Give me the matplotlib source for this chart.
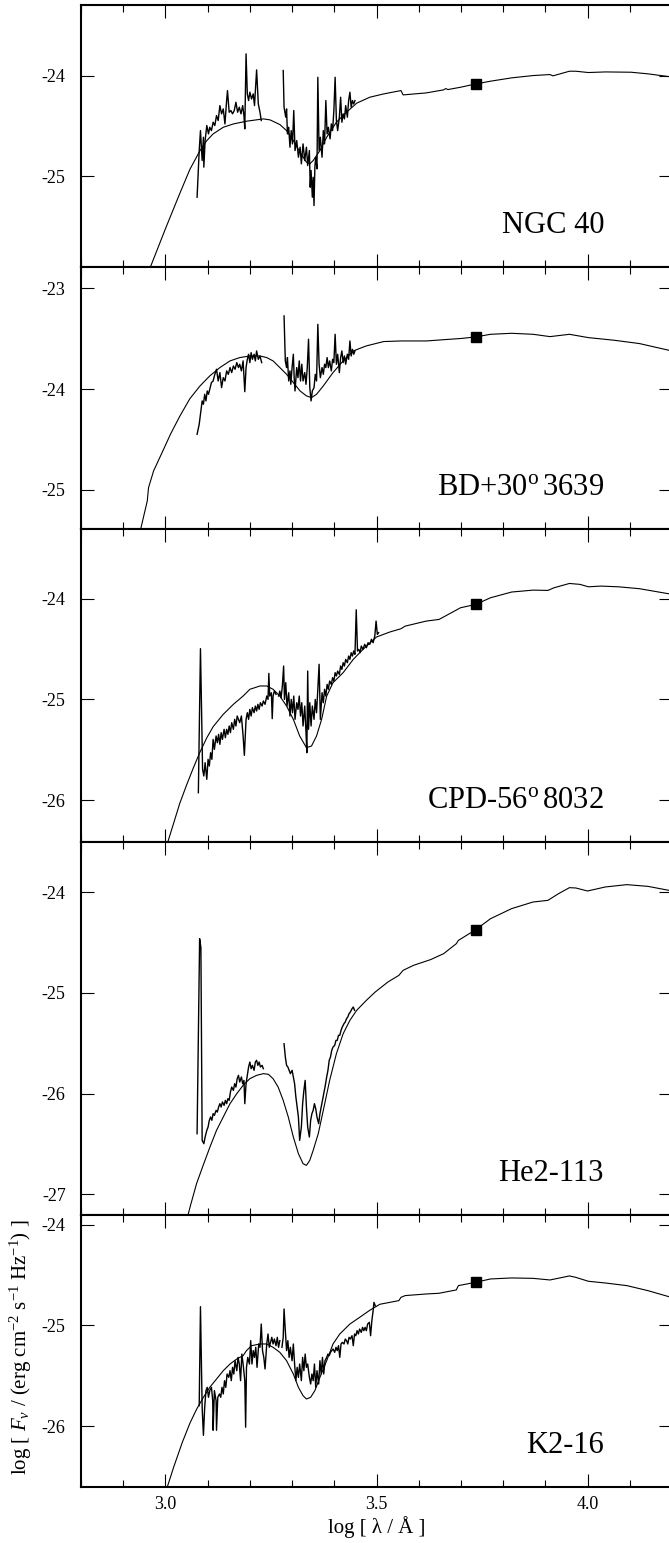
import matplotlib
matplotlib.use("Agg")
import matplotlib.pyplot as plt
from matplotlib.ticker import MultipleLocator

plt.rcParams["font.family"] = ["Liberation Serif", "DejaVu Serif"]
plt.rcParams["mathtext.fontset"] = "custom"
plt.rcParams["mathtext.rm"] = "Liberation Serif"
plt.rcParams["mathtext.it"] = "Liberation Serif:italic"
plt.rcParams["axes.unicode_minus"] = False

# ---------------------------------------------------------------- data
names = ["NGC 40", "BD+30$^\\mathrm{o}\\,$3639", "CPD-56$^\\mathrm{o}\\,$8032", "He2-113", "K2-16"]
ylims = [(-25.9, -23.3), (-25.39, -22.79), (-26.41, -23.31), (-27.2, -23.5), (-26.6, -23.9)]

# V-band photometry (log lambda, log F_nu)
v_logwl = 3.735
v_flux = [-24.083, -23.483, -24.057, -24.374, -24.572]

# NGC 40
ngc40_model_x = [2.955, 3.0, 3.034, 3.058, 3.082, 3.098, 3.113, 3.137, 3.161,
                 3.192, 3.232, 3.248, 3.271, 3.287, 3.303, 3.319, 3.334, 3.342, 3.350,
                 3.366, 3.382, 3.405, 3.429, 3.453, 3.484, 3.517, 3.558, 3.563, 3.618,
                 3.659, 3.664, 3.669, 3.699, 3.735, 3.770, 3.820, 3.871, 3.911, 3.918,
                 3.957, 3.972, 4.002, 4.042, 4.103, 4.143, 4.192, 4.2]
ngc40_model_y = [-26.0, -25.52, -25.17, -24.93, -24.744, -24.645, -24.579, -24.513, -24.48,
                 -24.453, -24.43, -24.44, -24.486, -24.546, -24.645, -24.761, -24.86, -24.876, -24.843,
                 -24.744, -24.612, -24.463, -24.364, -24.274, -24.215, -24.182, -24.149, -24.192, -24.172,
                 -24.142, -24.129, -24.139, -24.116, -24.083, -24.056, -24.023, -24.0, -23.99, -24.003,
                 -23.957, -23.957, -23.97, -23.964, -23.967, -23.983, -24.01, -24.015]
ngc40_swp_x = [3.075, 3.080, 3.083, 3.087, 3.090, 3.091, 3.094, 3.098, 3.102, 3.105,
               3.109, 3.113, 3.117, 3.121, 3.125, 3.129, 3.133, 3.137, 3.141, 3.145,
               3.147, 3.151, 3.155, 3.159, 3.163, 3.167, 3.171, 3.175, 3.179, 3.183,
               3.186, 3.188, 3.191, 3.194, 3.197, 3.200, 3.204, 3.208, 3.211, 3.216,
               3.220, 3.224, 3.227]
ngc40_swp_y = [-25.207, -24.744, -24.546, -24.843, -24.612, -24.909, -24.645, -24.496, -24.579, -24.513,
               -24.546, -24.463, -24.496, -24.397, -24.446, -24.298, -24.380, -24.331, -24.480, -24.248,
               -24.149, -24.364, -24.347, -24.380, -24.347, -24.265, -24.364, -24.314, -24.380, -24.298,
               -24.397, -24.529, -23.785, -24.182, -24.248, -24.165, -24.232, -24.182, -24.298, -23.944,
               -24.281, -24.364, -24.446]
ngc40_lw_x = [3.279, 3.281, 3.285, 3.287, 3.289, 3.292, 3.295, 3.298, 3.301, 3.304,
              3.307, 3.311, 3.315, 3.319, 3.322, 3.326, 3.330, 3.334, 3.337, 3.341,
              3.343, 3.345, 3.348, 3.350, 3.352, 3.354, 3.356, 3.359, 3.361, 3.364,
              3.367, 3.371, 3.374, 3.377, 3.380, 3.383, 3.386, 3.390, 3.393, 3.396,
              3.399, 3.402, 3.405, 3.408, 3.412, 3.415, 3.418, 3.421, 3.424, 3.427,
              3.431, 3.434, 3.437, 3.440, 3.443, 3.446, 3.449]
ngc40_lw_y = [-23.950, -24.314, -24.413, -24.331, -24.579, -24.513, -24.711, -24.546, -24.678, -24.347,
              -24.744, -24.645, -24.810, -24.711, -24.876, -24.678, -24.843, -24.711, -24.893, -24.744,
              -25.108, -24.942, -25.207, -25.009, -25.290, -24.909, -24.810, -24.926, -24.017, -24.744,
              -24.612, -24.810, -24.546, -24.678, -24.248, -24.579, -24.513, -24.628, -24.480, -24.546,
              -24.347, -24.017, -24.446, -24.546, -24.413, -24.215, -24.463, -24.380, -24.430, -24.298,
              -24.413, -24.248, -24.165, -24.314, -24.248, -24.281, -24.248]

# BD+30 3639
bd30_model_x = [2.938, 2.957, 2.960, 2.972, 2.992, 3.012, 3.034, 3.058, 3.082, 3.105,
                3.129, 3.153, 3.176, 3.200, 3.224, 3.240, 3.255, 3.271, 3.287, 3.303,
                3.319, 3.334, 3.346, 3.358, 3.374, 3.397, 3.421, 3.445, 3.476, 3.517,
                3.558, 3.618, 3.664, 3.699, 3.735, 3.770, 3.820, 3.871, 3.911, 3.957,
                4.002, 4.063, 4.123, 4.192, 4.2]
bd30_model_y = [-25.45, -25.11, -24.978, -24.812, -24.631, -24.448, -24.27, -24.095, -23.969, -23.870,
                -23.787, -23.721, -23.688, -23.672, -23.672, -23.688, -23.721, -23.787, -23.854, -23.936,
                -24.019, -24.068, -24.085, -24.052, -23.969, -23.837, -23.721, -23.622, -23.572, -23.529,
                -23.523, -23.523, -23.509, -23.499, -23.483, -23.457, -23.447, -23.457, -23.48, -23.457,
                -23.49, -23.516, -23.549, -23.615, -23.625]
bd30_swp_x = [3.075, 3.080, 3.083, 3.087, 3.090, 3.093, 3.096, 3.099, 3.102, 3.105,
              3.109, 3.113, 3.117, 3.121, 3.125, 3.129, 3.133, 3.137, 3.141, 3.145,
              3.149, 3.153, 3.157, 3.161, 3.165, 3.169, 3.173, 3.176, 3.180, 3.184,
              3.188, 3.191, 3.194, 3.197, 3.200, 3.203, 3.206, 3.210, 3.213, 3.216,
              3.220, 3.224, 3.228]
bd30_swp_y = [-24.449, -24.350, -24.250, -24.118, -24.151, -24.052, -24.118, -24.019, -24.052, -24.002,
              -23.936, -23.920, -23.854, -23.804, -23.920, -23.837, -23.986, -23.887, -23.920, -23.820,
              -23.854, -23.787, -23.837, -23.771, -23.804, -23.738, -23.787, -23.754, -23.820, -23.721,
              -24.026, -23.787, -23.705, -23.655, -23.738, -23.639, -23.705, -23.655, -23.721, -23.622,
              -23.705, -23.672, -23.738]
bd30_lw_x = [3.281, 3.284, 3.287, 3.289, 3.292, 3.295, 3.297, 3.300, 3.303, 3.305,
             3.307, 3.311, 3.314, 3.317, 3.320, 3.323, 3.326, 3.330, 3.333, 3.336,
             3.339, 3.342, 3.345, 3.348, 3.352, 3.355, 3.358, 3.361, 3.364, 3.367,
             3.371, 3.374, 3.377, 3.380, 3.383, 3.386, 3.389, 3.393, 3.396, 3.399,
             3.402, 3.405, 3.408, 3.412, 3.415, 3.418, 3.421, 3.424, 3.427, 3.431,
             3.434, 3.437, 3.440, 3.443, 3.446, 3.449]
bd30_lw_y = [-23.275, -23.721, -23.787, -23.688, -23.920, -23.820, -23.953, -23.787, -23.655, -23.887,
             -24.019, -23.787, -23.887, -23.721, -23.920, -23.754, -23.920, -23.837, -23.953, -23.787,
             -23.506, -23.986, -24.118, -24.019, -23.986, -23.854, -23.920, -23.358, -23.754, -23.887,
             -23.787, -23.854, -23.754, -23.787, -23.688, -23.787, -23.721, -23.820, -23.705, -23.738,
             -23.457, -23.754, -23.655, -23.837, -23.688, -23.622, -23.738, -23.672, -23.754, -23.655,
             -23.705, -23.523, -23.672, -23.606, -23.655, -23.622]

# CPD-56 8032
cpd56_model_x = [2.995, 3.0, 3.02, 3.034, 3.050, 3.066, 3.082, 3.098, 3.113, 3.137, 3.161,
                 3.184, 3.200, 3.224, 3.240, 3.255, 3.271, 3.287, 3.303, 3.318, 3.334,
                 3.346, 3.358, 3.370, 3.382, 3.397, 3.421, 3.445, 3.468, 3.500, 3.532,
                 3.558, 3.568, 3.618, 3.648, 3.689, 3.699, 3.735, 3.770, 3.820, 3.871,
                 3.906, 3.921, 3.957, 3.982, 4.002, 4.032, 4.073, 4.123, 4.192, 4.2]
cpd56_model_y = [-26.56, -26.49, -26.22, -26.03, -25.85, -25.68, -25.52, -25.38, -25.27, -25.147, -25.048,
                 -24.966, -24.899, -24.866, -24.866, -24.899, -24.966, -25.065, -25.197, -25.362, -25.478,
                 -25.462, -25.362, -25.197, -24.966, -24.833, -24.734, -24.602, -24.503, -24.38, -24.33,
                 -24.298, -24.272, -24.222, -24.206, -24.113, -24.090, -24.057, -23.991, -23.934, -23.915,
                 -23.918, -23.891, -23.849, -23.858, -23.882, -23.875, -23.882, -23.901, -23.951, -23.957]
cpd56_swp_x = [3.078, 3.083, 3.086, 3.088, 3.091, 3.094, 3.098, 3.101, 3.104, 3.107,
               3.110, 3.113, 3.116, 3.120, 3.123, 3.126, 3.129, 3.132, 3.135, 3.139,
               3.142, 3.145, 3.148, 3.151, 3.154, 3.157, 3.161, 3.164, 3.167, 3.170,
               3.173, 3.176, 3.180, 3.184, 3.187, 3.191, 3.194, 3.197, 3.200, 3.203,
               3.206, 3.210, 3.213, 3.216, 3.219, 3.222, 3.225, 3.229, 3.232, 3.236,
               3.240, 3.243, 3.245, 3.247, 3.251, 3.253, 3.255, 3.258, 3.262]
cpd56_swp_y = [-25.925, -24.496, -25.197, -25.693, -25.759, -25.627, -25.792, -25.594, -25.660, -25.528,
               -25.594, -25.396, -25.495, -25.362, -25.429, -25.346, -25.445, -25.329, -25.396, -25.296,
               -25.379, -25.296, -25.346, -25.263, -25.329, -25.230, -25.296, -25.197, -25.263, -25.164,
               -25.197, -25.230, -25.164, -25.362, -25.554, -25.197, -25.131, -25.197, -25.098, -25.164,
               -25.081, -25.131, -25.065, -25.114, -25.048, -25.098, -25.032, -25.065, -25.015, -25.048,
               -24.966, -24.999, -24.741, -24.966, -24.933, -25.190, -24.966, -24.916, -24.949]
cpd56_lw_x = [3.268, 3.271, 3.274, 3.277, 3.280, 3.282, 3.285, 3.288, 3.292, 3.295,
              3.298, 3.301, 3.304, 3.307, 3.311, 3.314, 3.317, 3.320, 3.323, 3.326,
              3.330, 3.333, 3.335, 3.337, 3.339, 3.342, 3.345, 3.348, 3.352, 3.355,
              3.358, 3.361, 3.364, 3.367, 3.371, 3.374, 3.377, 3.380, 3.383, 3.386,
              3.389, 3.393, 3.396, 3.399, 3.402, 3.405, 3.408, 3.412, 3.415, 3.418,
              3.421, 3.424, 3.427, 3.431, 3.434, 3.437, 3.440, 3.443, 3.446, 3.449,
              3.452, 3.455, 3.458, 3.461, 3.464, 3.468, 3.472, 3.476, 3.480, 3.484,
              3.488, 3.492, 3.496, 3.499, 3.502, 3.505]
cpd56_lw_y = [-24.966, -24.916, -24.982, -24.866, -24.668, -24.999, -24.833, -25.065, -24.933, -25.164,
              -24.999, -25.131, -24.966, -25.197, -25.032, -25.098, -24.966, -25.164, -25.032, -25.263,
              -25.065, -25.329, -25.528, -24.718, -25.296, -25.032, -25.263, -25.065, -25.197, -24.999,
              -25.131, -24.899, -24.651, -25.197, -24.933, -25.032, -24.899, -24.966, -24.850, -24.899,
              -24.817, -24.850, -24.784, -24.817, -24.734, -24.767, -24.718, -24.751, -24.668, -24.701,
              -24.635, -24.668, -24.602, -24.635, -24.569, -24.602, -24.536, -24.569, -24.519, -24.552,
              -24.110, -24.519, -24.503, -24.536, -24.470, -24.503, -24.453, -24.486, -24.437, -24.453,
              -24.403, -24.437, -24.370, -24.222, -24.354, -24.337]

# He2-113
he2_model_x = [3.050, 3.060, 3.074, 3.090, 3.105, 3.121, 3.137, 3.153, 3.169, 3.184, 3.200,
               3.216, 3.232, 3.244, 3.255, 3.267, 3.279, 3.291, 3.303, 3.315, 3.326,
               3.334, 3.342, 3.350, 3.362, 3.374, 3.389, 3.405, 3.421, 3.437, 3.453,
               3.476, 3.497, 3.527, 3.553, 3.563, 3.588, 3.628, 3.659, 3.689, 3.694,
               3.735, 3.770, 3.820, 3.871, 3.906, 3.931, 3.957, 3.972, 4.000, 4.042,
               4.093, 4.143, 4.192, 4.2]
he2_model_y = [-27.26, -27.10, -26.89, -26.705, -26.535, -26.365, -26.232, -26.100, -26.001, -25.918, -25.852,
               -25.819, -25.802, -25.809, -25.852, -25.935, -26.067, -26.232, -26.431, -26.596, -26.695,
               -26.712, -26.662, -26.563, -26.398, -26.166, -25.869, -25.604, -25.406, -25.273, -25.174,
               -25.075, -24.992, -24.893, -24.827, -24.777, -24.727, -24.671, -24.612, -24.513, -24.480,
               -24.374, -24.265, -24.165, -24.099, -24.083, -24.017, -23.957, -23.960, -23.990, -23.950,
               -23.927, -23.944, -23.983, -23.99]
he2_swp_x = [3.075, 3.081, 3.084, 3.087, 3.091, 3.094, 3.098, 3.101, 3.104, 3.107,
             3.110, 3.113, 3.116, 3.120, 3.123, 3.126, 3.129, 3.132, 3.135, 3.139,
             3.142, 3.145, 3.148, 3.151, 3.154, 3.157, 3.161, 3.164, 3.167, 3.170,
             3.173, 3.176, 3.180, 3.183, 3.186, 3.188, 3.191, 3.194, 3.197, 3.200,
             3.203, 3.206, 3.210, 3.213, 3.216, 3.219, 3.222, 3.225, 3.229, 3.232]
he2_swp_y = [-26.398, -24.463, -24.55, -26.464, -26.497, -26.431, -26.365, -26.332, -26.265, -26.232,
             -26.265, -26.199, -26.216, -26.166, -26.183, -26.133, -26.100, -26.133, -26.083, -26.117,
             -26.067, -26.100, -26.050, -26.067, -25.984, -25.935, -25.968, -25.902, -25.935, -25.852,
             -25.819, -25.885, -25.835, -25.902, -25.869, -26.100, -25.902, -25.819, -25.736, -25.687,
             -25.753, -25.720, -25.769, -25.687, -25.670, -25.720, -25.687, -25.736, -25.720, -25.753]
he2_lw_x = [3.281, 3.284, 3.287, 3.290, 3.293, 3.296, 3.300, 3.303, 3.306, 3.309,
            3.312, 3.315, 3.318, 3.322, 3.325, 3.328, 3.331, 3.334, 3.337, 3.341,
            3.344, 3.347, 3.350, 3.353, 3.356, 3.359, 3.363, 3.366, 3.369, 3.372,
            3.375, 3.378, 3.382, 3.385, 3.388, 3.391, 3.394, 3.397, 3.401, 3.404,
            3.407, 3.410, 3.413, 3.416, 3.419, 3.423, 3.426, 3.429, 3.432, 3.435,
            3.438, 3.442, 3.445, 3.448]
he2_lw_y = [-25.505, -25.637, -25.720, -25.736, -25.769, -25.802, -25.769, -25.835, -25.902, -26.034,
            -26.133, -26.232, -26.464, -26.332, -26.100, -25.968, -25.869, -26.133, -26.332, -26.431,
            -26.265, -26.199, -26.166, -26.100, -26.150, -26.232, -26.298, -26.199, -26.133, -26.067,
            -26.001, -25.935, -25.835, -25.769, -25.670, -25.637, -25.571, -25.538, -25.521, -25.472,
            -25.472, -25.422, -25.422, -25.372, -25.339, -25.306, -25.290, -25.257, -25.240, -25.207,
            -25.191, -25.158, -25.141, -25.174]

# K2-16
k216_model_x = [2.995, 3.0, 3.02, 3.04, 3.058, 3.074, 3.090, 3.105, 3.121, 3.137, 3.153, 3.169,
                3.184, 3.192, 3.204, 3.224, 3.240, 3.255, 3.271, 3.287, 3.303, 3.315,
                3.326, 3.334, 3.344, 3.354, 3.366, 3.382, 3.397, 3.413, 3.437, 3.460,
                3.484, 3.508, 3.553, 3.558, 3.568, 3.618, 3.648, 3.689, 3.694, 3.735,
                3.770, 3.820, 3.871, 3.911, 3.957, 3.972, 4.002, 4.042, 4.093, 4.143,
                4.192, 4.2]
k216_model_y = [-26.75, -26.66, -26.40, -26.16, -25.97, -25.83, -25.713, -25.614, -25.532, -25.449, -25.383, -25.333,
                -25.300, -25.250, -25.201, -25.184, -25.184, -25.217, -25.267, -25.350, -25.482, -25.614,
                -25.697, -25.730, -25.713, -25.647, -25.515, -25.350, -25.184, -25.085, -24.986, -24.920,
                -24.85, -24.79, -24.754, -24.721, -24.704, -24.688, -24.681, -24.648, -24.605, -24.572,
                -24.539, -24.529, -24.533, -24.549, -24.509, -24.523, -24.562, -24.579, -24.605, -24.655,
                -24.714, -24.725]
k216_swp_x = [3.080, 3.083, 3.087, 3.090, 3.093, 3.096, 3.099, 3.102, 3.105, 3.109,
              3.112, 3.113, 3.116, 3.120, 3.121, 3.124, 3.128, 3.131, 3.134, 3.137,
              3.140, 3.143, 3.146, 3.150, 3.153, 3.156, 3.159, 3.162, 3.165, 3.169,
              3.172, 3.175, 3.178, 3.181, 3.184, 3.188, 3.190, 3.192, 3.195, 3.199,
              3.202, 3.205, 3.208, 3.211, 3.214, 3.217, 3.221, 3.224, 3.227, 3.230,
              3.233, 3.236, 3.240, 3.243, 3.246, 3.249, 3.252, 3.255, 3.258, 3.262,
              3.265, 3.268, 3.271]
k216_swp_y = [-25.796, -24.814, -25.813, -26.09, -25.813, -25.647, -25.614, -25.713, -25.647, -25.614,
              -25.747, -26.04, -25.647, -25.747, -26.04, -25.713, -25.680, -25.713, -25.614, -25.680,
              -25.548, -25.614, -25.482, -25.515, -25.449, -25.548, -25.416, -25.482, -25.350, -25.449,
              -25.317, -25.383, -25.548, -25.284, -25.383, -25.548, -26.01, -25.416, -25.317, -25.383,
              -25.151, -25.383, -25.250, -25.317, -25.217, -25.416, -25.184, -25.217, -24.986, -25.250,
              -25.317, -25.432, -25.184, -25.085, -25.217, -25.168, -25.118, -25.184, -25.135, -25.201,
              -25.118, -25.217, -25.151]
k216_lw_x = [3.276, 3.279, 3.281, 3.284, 3.287, 3.290, 3.293, 3.296, 3.300, 3.303,
             3.306, 3.309, 3.312, 3.315, 3.318, 3.322, 3.325, 3.328, 3.331, 3.334,
             3.337, 3.341, 3.344, 3.347, 3.350, 3.353, 3.356, 3.359, 3.363, 3.366,
             3.369, 3.372, 3.375, 3.378, 3.382, 3.385, 3.388, 3.391, 3.394, 3.397,
             3.401, 3.404, 3.407, 3.410, 3.413, 3.416, 3.419, 3.423, 3.426, 3.429,
             3.432, 3.435, 3.438, 3.442, 3.445, 3.448, 3.451, 3.454, 3.457, 3.460,
             3.464, 3.467, 3.470, 3.473, 3.476, 3.479, 3.483, 3.486, 3.489, 3.492,
             3.494, 3.497]
k216_lw_y = [-25.217, -25.118, -24.837, -25.052, -25.250, -25.151, -25.317, -25.217, -25.350, -25.184,
             -25.383, -25.548, -25.416, -25.515, -25.383, -25.548, -25.317, -25.449, -25.284, -25.416,
             -25.383, -25.515, -25.581, -25.482, -25.548, -25.383, -25.614, -25.449, -25.581, -25.350,
             -25.482, -25.317, -25.482, -25.350, -25.317, -25.284, -25.300, -25.267, -25.250, -25.234,
             -25.267, -25.217, -25.250, -25.201, -25.317, -25.184, -25.168, -25.184, -25.135, -25.151,
             -25.184, -25.118, -25.135, -25.102, -25.201, -25.085, -25.102, -25.052, -25.085, -25.036,
             -25.069, -25.019, -25.052, -25.019, -25.052, -24.986, -24.969, -25.102, -24.953, -24.854,
             -24.771, -24.804]

panels = [
    (ngc40_model_x, ngc40_model_y, ngc40_swp_x, ngc40_swp_y, ngc40_lw_x, ngc40_lw_y),
    (bd30_model_x, bd30_model_y, bd30_swp_x, bd30_swp_y, bd30_lw_x, bd30_lw_y),
    (cpd56_model_x, cpd56_model_y, cpd56_swp_x, cpd56_swp_y, cpd56_lw_x, cpd56_lw_y),
    (he2_model_x, he2_model_y, he2_swp_x, he2_swp_y, he2_lw_x, he2_lw_y),
    (k216_model_x, k216_model_y, k216_swp_x, k216_swp_y, k216_lw_x, k216_lw_y),
]

# ---------------------------------------------------------------- figure
W, H = 669, 1543
fig = plt.figure(figsize=(W / 100, H / 100), dpi=100)
gs = fig.add_gridspec(
    5, 1,
    height_ratios=[hi - lo for lo, hi in ylims],
    hspace=0,
    left=81 / W, right=672 / W,
    top=1 - 5 / H, bottom=1 - 1486.7 / H,
)

axes = []
for i, (mx, my, sx, sy, lx, ly) in enumerate(panels):
    ax = fig.add_subplot(gs[i])
    axes.append(ax)

    # model SED, the two UV spectra and the V-band point
    ax.plot(mx, my, color="black", lw=0.8)
    ax.plot(sx, sy, color="black", lw=1.0)
    ax.plot(lx, ly, color="black", lw=1.0)
    ax.plot([v_logwl], [v_flux[i]], "s", color="black", ms=7)

    ax.set_xlim(2.8, 4.2)
    ax.set_ylim(*ylims[i])

    ax.xaxis.set_major_locator(MultipleLocator(0.5))
    ax.xaxis.set_minor_locator(MultipleLocator(0.1))
    ax.yaxis.set_major_locator(MultipleLocator(1))

    ax.tick_params(which="both", direction="in", top=True, right=True,
                   width=0.8, labelsize=13)
    ax.tick_params(which="major", length=9.5)
    ax.tick_params(which="minor", length=5)
    ax.tick_params(axis="y", pad=11)
    ax.tick_params(axis="x", pad=6.5)
    for sp in ax.spines.values():
        sp.set_linewidth(1.5)

    if i < len(panels) - 1:
        ax.tick_params(labelbottom=False)

    ax.annotate(names[i], xy=(0.885, 0), xycoords="axes fraction",
                xytext=(0, 24.5), textcoords="offset points",
                ha="right", va="baseline", fontsize=22)

bottom = axes[-1]
bottom.set_xlabel("log [ λ / Å ]", fontsize=15)
bottom.xaxis.set_label_coords(0.5, -0.108)
bottom.set_ylabel("log [ $F_{\\nu}$ / (erg cm$^{-2}$ s$^{-1}$ Hz$^{-1}$) ]", fontsize=15)
bottom.yaxis.set_label_coords(-0.08, 0.512)

fig.savefig("out.png", dpi=100)
